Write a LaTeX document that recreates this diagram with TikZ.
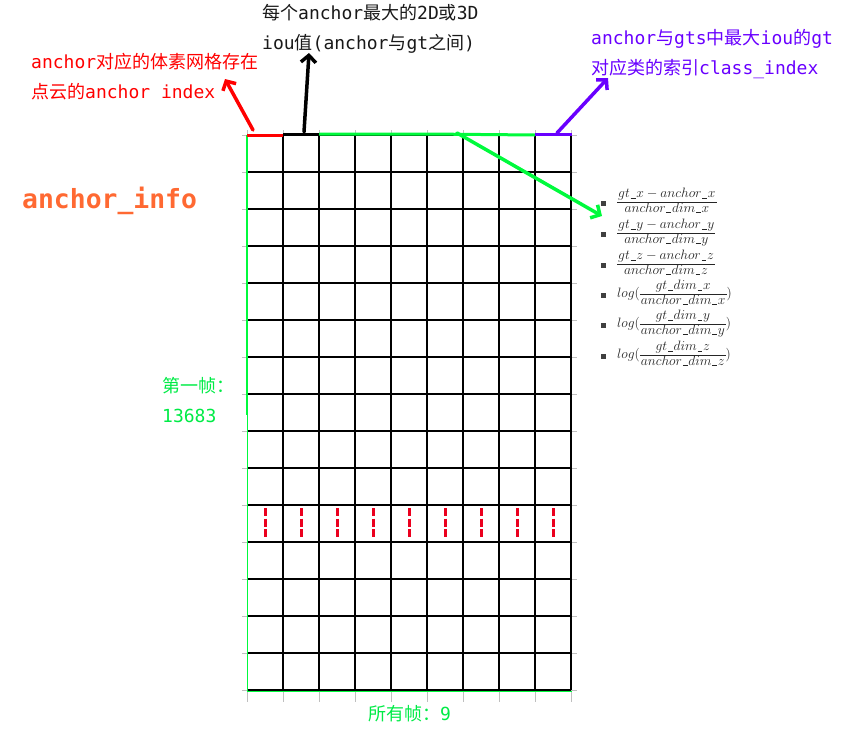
\RequirePackage{fix-cm}
\documentclass[tikz,border=0pt]{standalone}
\usepackage{amsmath}
\usepackage{fontspec}
\setmonofont{DejaVu Sans Mono}
\newfontfamily\cjk{Noto Sans CJK SC}
\usetikzlibrary{arrows.meta}
\definecolor{lgreen}{RGB}{0,250,60}
\definecolor{tgreen}{RGB}{0,235,70}
\definecolor{vio}{RGB}{105,0,255}
\definecolor{orng}{RGB}{255,105,50}
\definecolor{dred}{RGB}{235,0,30}
\newcommand{\usc}{\mkern1mu\rule[-0.6pt]{0.36em}{0.45pt}\mkern1mu}
\newcommand{\rfrac}[2]{{\setlength{\arraycolsep}{1pt}\begin{array}{c}#1\\\hline #2\end{array}}}
\tikzset{
  txt/.style={anchor=base west, inner sep=0pt, align=left,
    font=\fontsize{18}{30}\selectfont\ttfamily},
  formula/.style={anchor=base west, inner sep=0pt, text=black!85,
    font=\fontsize{13.6}{14.2}\selectfont},
  bulletsq/.style={fill=black!75, minimum size=5pt, inner sep=0pt}
}
\begin{document}
\begin{tikzpicture}[x=1pt, y=-1pt,
    grey/.style={black!25, line width=1pt},
    hline/.style={black, line width=1.7pt},
    vline/.style={black, line width=1.1pt},
    edgebar/.style={line width=3pt},
    arr/.style={line width=3.5pt, line cap=round, -{Straight Barb[length=7pt,width=15pt]}}]
  \useasboundingbox (0,0) rectangle (862,739);
  % grey ticks behind the grid
  \foreach \j in {0,...,15} \draw[grey] (242,135+37*\j) -- (577,135+37*\j);
  \foreach \i in {0,...,9} \draw[grey] (247+36*\i,130) -- (247+36*\i,702);
  % grid
  \foreach \j in {0,...,15} \draw[hline] (247,135+37*\j) -- (571,135+37*\j);
  \foreach \i in {1,...,9} \draw[vline] (247+36*\i,135) -- (247+36*\i,690);
  \draw[lgreen, line width=1pt] (247,135) -- (247,691) -- (572,691);
  \draw[lgreen, line width=2.2pt] (247,135) -- (247,415);
  % rows left out
  \foreach \i in {0,...,8}
    \draw[dred, line width=3pt, dash pattern=on 8pt off 2.5pt] (265+36*\i,508) -- (265+36*\i,538);
  % first row of fields
  \draw[edgebar, red] (247,135) -- (283,135);
  \draw[edgebar, black] (283,134) -- (319,134);
  \draw[edgebar, lgreen] (319,134) -- (427,134) -- (535,135);
  \draw[edgebar, vio] (535,134) -- (572,134);

  % labels (base = last line)
  \node[txt, red] (redtxt) at (31,98) {anchor{\cjk 对应的体素网格存在}\\{\cjk 点云的}anchor index};
  \node[txt, black!90] (blacktxt) at (262,49) {{\cjk 每个}anchor{\cjk 最大的}2D{\cjk 或}3D\\iou{\cjk 值}(anchor{\cjk 与}gt{\cjk 之间})};
  \node[txt, vio] (viotxt) at (591,74) {anchor{\cjk 与}gts{\cjk 中最大}iou{\cjk 的}gt\\{\cjk 对应类的索引}class\_index};
  \node[txt, orng, font=\fontsize{26.4}{30}\selectfont\ttfamily\bfseries] (info) at (22,208) {anchor\_info};
  \node[txt, tgreen] (first) at (162,422) {{\cjk 第一帧：}\\13683};
  \node[txt, tgreen] (all) at (368,720) {{\cjk 所有帧：}9};

  % regression targets
  \foreach \y/\f [count=\k] in {202/{\rfrac{gt\usc x-anchor\usc x}{anchor\usc dim\usc x}},
      233/{\rfrac{gt\usc y-anchor\usc y}{anchor\usc dim\usc y}},
      264/{\rfrac{gt\usc z-anchor\usc z}{anchor\usc dim\usc z}},
      294/{log(\rfrac{gt\usc dim\usc x}{anchor\usc dim\usc x})},
      324/{log(\rfrac{gt\usc dim\usc y}{anchor\usc dim\usc y})},
      355/{log(\rfrac{gt\usc dim\usc z}{anchor\usc dim\usc z})}}{
    \node[bulletsq] (b\k) at (603.5,\y+1.5) {};
    \node[formula] (f\k) at (617,\y+3.4) {$\f$};
  }

  % arrows
  \coordinate (r0) at (253,130);
  \coordinate (r1) at (225,79);
  \coordinate (k0) at (304,132);
  \coordinate (k1) at (309,53);
  \coordinate (v0) at (557,133);
  \coordinate (v1) at (608,78);
  \coordinate (g0) at (457,133);
  \coordinate (g1) at (602,216);
  \draw[arr, red] (r0) -- (r1);
  \draw[arr, black] (k0) -- (k1);
  \draw[arr, vio] (v0) -- (v1);
  \draw[arr, lgreen] (g0) -- (g1);
\end{tikzpicture}
\end{document}
